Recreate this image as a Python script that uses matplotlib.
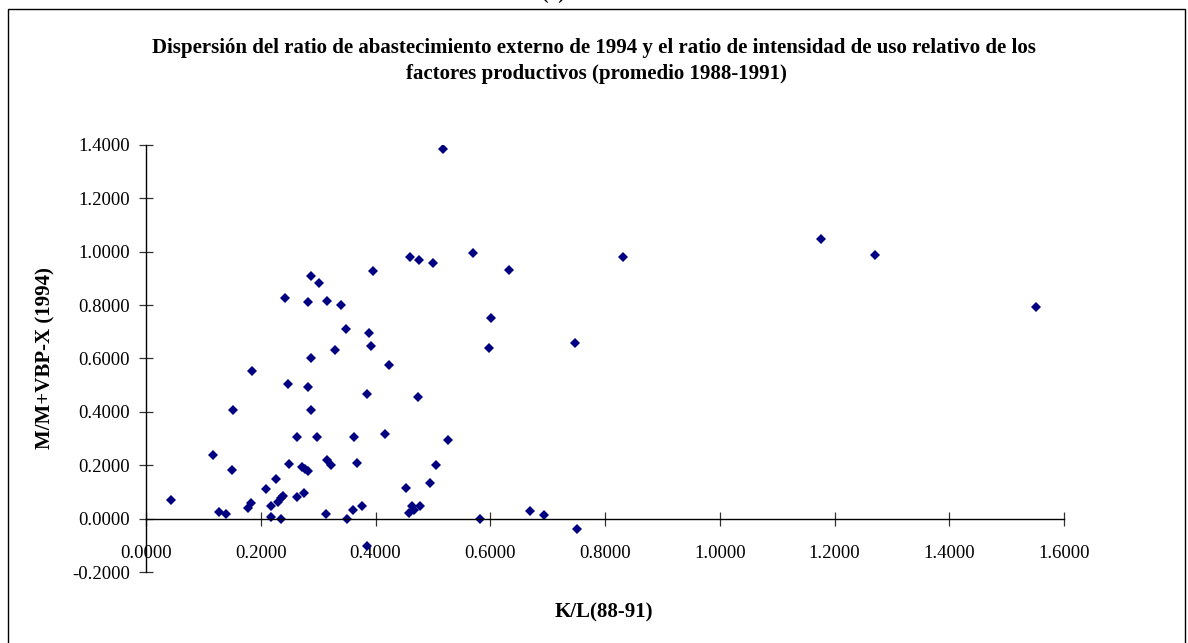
import numpy as np
import matplotlib
matplotlib.use("Agg")
import matplotlib.pyplot as plt
from matplotlib.patches import Rectangle
from matplotlib.ticker import FormatStrFormatter, MultipleLocator

# -------------------------
# DATA
# -------------------------
kl_8891 = [
    0.043, 0.117, 0.150, 0.127, 0.139, 0.177, 0.183, 0.210, 0.227, 0.249,
    0.218, 0.218, 0.236, 0.230, 0.235, 0.239, 0.264, 0.298, 0.363, 0.417,
    0.272, 0.277, 0.282, 0.264, 0.276, 0.315, 0.322, 0.367, 0.314, 0.351,
    0.360, 0.376, 0.386, 0.184, 0.288, 0.302, 0.395, 0.243, 0.283, 0.316,
    0.339, 0.349, 0.388, 0.393, 0.330, 0.288, 0.423, 0.248, 0.283, 0.386,
    0.152, 0.288, 0.518, 0.460, 0.475, 0.500, 0.570, 0.633, 0.832, 0.601,
    0.598, 0.748, 0.474, 0.526, 0.505, 0.495, 0.453, 0.458, 0.464, 0.467,
    0.478, 0.582, 0.670, 0.693, 0.752, 1.177, 1.271, 1.551,
]
m_ratio_1994 = [
    0.070, 0.240, 0.183, 0.025, 0.018, 0.039, 0.060, 0.110, 0.149, 0.205,
    0.049, 0.005, 0.000, 0.063, 0.078, 0.086, 0.306, 0.306, 0.306, 0.316,
    0.195, 0.186, 0.177, 0.080, 0.096, 0.221, 0.201, 0.209, 0.019, 0.000,
    0.034, 0.049, -0.101, 0.554, 0.907, 0.881, 0.926, 0.827, 0.812, 0.816,
    0.801, 0.712, 0.697, 0.645, 0.632, 0.602, 0.576, 0.506, 0.492, 0.466,
    0.406, 0.406, 1.383, 0.978, 0.967, 0.958, 0.993, 0.931, 0.978, 0.752,
    0.640, 0.657, 0.454, 0.295, 0.203, 0.134, 0.115, 0.020, 0.046, 0.031,
    0.046, 0.000, 0.029, 0.015, -0.037, 1.048, 0.986, 0.793,
]

title_1 = ("Dispersión del ratio de abastecimiento externo de 1994 y el ratio "
           "de intensidad de uso relativo de los")
title_2 = "factores productivos (promedio 1988-1991)"
x_label = "K/L(88-91)"
y_label = "M/M+VBP-X (1994)"

# -------------------------
# FIGURE
# -------------------------
plt.rcParams['font.family'] = ['Liberation Serif', 'DejaVu Serif']

W, H = 1188, 643
fig = plt.figure(figsize=(W / 100, H / 100), dpi=100)

# outer frame (bottom edge runs off the picture)
fig.patches.append(Rectangle((8 / W, -0.05), 1177 / W, 1.05 - 9 / H,
                             transform=fig.transFigure, fill=False,
                             edgecolor='black', linewidth=1.0))

# panel tag above the frame, cut off by the top edge as in the source
fig.text(553 / W, 1 - 3 / H, "(b)", ha='center', va='bottom',
         fontsize=14, fontweight='bold')

ax = fig.add_axes([146 / W, (H - 572.2) / H, 918 / W, (572.2 - 144.7) / H])
ax.plot(kl_8891, m_ratio_1994, linestyle='none', marker='D',
        markersize=5.2, color='#000080', markeredgewidth=0)

ax.set_xlim(0, 1.6)
ax.set_ylim(-0.2, 1.4)
ax.xaxis.set_major_locator(MultipleLocator(0.2))
ax.yaxis.set_major_locator(MultipleLocator(0.2))
ax.xaxis.set_major_formatter(FormatStrFormatter('%.4f'))
ax.yaxis.set_major_formatter(FormatStrFormatter('%.4f'))

ax.spines['top'].set_visible(False)
ax.spines['right'].set_visible(False)
ax.spines['bottom'].set_position(('data', 0))
for s in ('left', 'bottom'):
    ax.spines[s].set_linewidth(1.0)
    ax.spines[s].set_color('black')

ax.tick_params(axis='x', direction='inout', length=9.5, width=0.9,
               color='#333333', pad=14, labelsize=13.5)
ax.tick_params(axis='y', direction='inout', length=9.5, width=0.9,
               color='#333333', pad=7, labelsize=13.5)
ax.set_facecolor('none')

# titles and axis labels
fig.text(594 / W, 1 - 48 / H, title_1, ha='center', va='center',
         fontsize=15, fontweight='bold')
fig.text(596 / W, 1 - 74 / H, title_2, ha='center', va='center',
         fontsize=15, fontweight='bold')
fig.text(604 / W, 1 - 612 / H, x_label, ha='center', va='center',
         fontsize=15, fontweight='bold')
fig.text(45 / W, 1 - 358 / H, y_label, ha='center', va='center',
         rotation=90, fontsize=15, fontweight='bold')

fig.savefig("out.png", dpi=100)
